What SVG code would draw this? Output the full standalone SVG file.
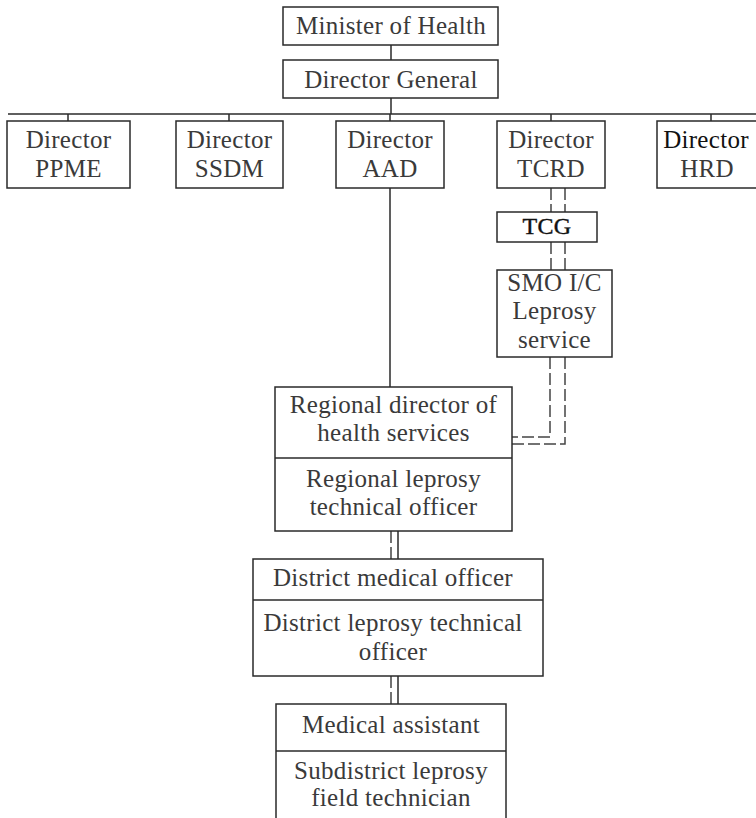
<svg xmlns="http://www.w3.org/2000/svg" width="756" height="818" viewBox="0 0 756 818">
<style>
.box{fill:#fff;stroke:#2a2a2a;stroke-width:1.5}
.ln{fill:none;stroke:#2a2a2a;stroke-width:1.5}
.dash{fill:none;stroke:#444;stroke-width:1.5;stroke-dasharray:12,4}
text{font-family:"Liberation Serif","Times New Roman",serif;font-size:25px;fill:#3a3a3a;text-anchor:middle;letter-spacing:0.3px}
.b{font-size:24px;fill:#111;stroke:#111;stroke-width:0.4}
</style>
<rect width="756" height="818" fill="#fff"/>
<g id="connectors">
<line class="ln" x1="391" y1="45" x2="391" y2="60"/>
<line class="ln" x1="391" y1="98" x2="391" y2="114"/>
<line class="ln" x1="8" y1="114" x2="756" y2="114"/>
<line class="ln" x1="68" y1="114" x2="68" y2="121"/>
<line class="ln" x1="229" y1="114" x2="229" y2="121"/>
<line class="ln" x1="390" y1="114" x2="390" y2="121"/>
<line class="ln" x1="551" y1="114" x2="551" y2="121"/>
<line class="ln" x1="711" y1="114" x2="711" y2="121"/>
<line class="ln" x1="390" y1="188" x2="390" y2="387"/>
<line class="dash" x1="551" y1="188" x2="551" y2="212"/>
<line class="dash" x1="565" y1="188" x2="565" y2="212"/>
<line class="dash" x1="551" y1="242" x2="551" y2="270"/>
<line class="dash" x1="565" y1="242" x2="565" y2="270"/>
<polyline class="dash" points="550,357 550,437 512,437"/>
<polyline class="dash" points="565,357 565,444 512,444"/>
<line class="dash" x1="391" y1="531" x2="391" y2="559"/>
<line class="ln" x1="398" y1="531" x2="398" y2="559"/>
<line class="dash" x1="391" y1="676" x2="391" y2="704"/>
<line class="ln" x1="398" y1="676" x2="398" y2="704"/>
</g>
<g id="minister">
<rect class="box" x="283" y="7" width="215" height="38"/>
<text x="391" y="34">Minister of Health</text>
</g>
<g id="dg">
<rect class="box" x="283" y="60" width="215" height="38"/>
<text x="391" y="88">Director General</text>
</g>
<g id="ppme">
<rect class="box" x="7" y="121" width="123" height="67"/>
<text x="68.5" y="148">Director</text>
<text x="68.5" y="177">PPME</text>
</g>
<g id="ssdm">
<rect class="box" x="176" y="121" width="107" height="67"/>
<text x="229.5" y="148">Director</text>
<text x="229.5" y="177">SSDM</text>
</g>
<g id="aad">
<rect class="box" x="336" y="121" width="108" height="67"/>
<text x="390" y="148">Director</text>
<text x="390" y="177">AAD</text>
</g>
<g id="tcrd">
<rect class="box" x="497" y="121" width="108" height="67"/>
<text x="551" y="148">Director</text>
<text x="551" y="177">TCRD</text>
</g>
<g id="hrd">
<rect class="box" x="657" y="121" width="120" height="67"/>
<text x="706" y="148" style="fill:#111">Director</text>
<text x="707" y="177">HRD</text>
</g>
<g id="tcg">
<rect class="box" x="497" y="212" width="100" height="30"/>
<text class="b" x="547" y="234">TCG</text>
</g>
<g id="smo">
<rect class="box" x="497" y="270" width="115" height="87"/>
<text x="554.5" y="291">SMO I/C</text>
<text x="554.5" y="319">Leprosy</text>
<text x="554.5" y="348">service</text>
</g>
<g id="regional">
<rect class="box" x="275" y="387" width="237" height="144"/>
<line class="ln" x1="275" y1="458" x2="512" y2="458"/>
<text x="393.5" y="413">Regional director of</text>
<text x="393.5" y="441">health services</text>
<text x="393.5" y="487">Regional leprosy</text>
<text x="393.5" y="515">technical officer</text>
</g>
<g id="district">
<rect class="box" x="253" y="559" width="290" height="117"/>
<line class="ln" x1="253" y1="600" x2="543" y2="600"/>
<text x="393" y="586">District medical officer</text>
<text x="393" y="631">District leprosy technical</text>
<text x="393" y="660">officer</text>
</g>
<g id="medical">
<rect class="box" x="276" y="704" width="230" height="130"/>
<line class="ln" x1="276" y1="751" x2="506" y2="751"/>
<text x="391" y="733">Medical assistant</text>
<text x="391" y="779">Subdistrict leprosy</text>
<text x="391" y="806">field technician</text>
</g>
</svg>
